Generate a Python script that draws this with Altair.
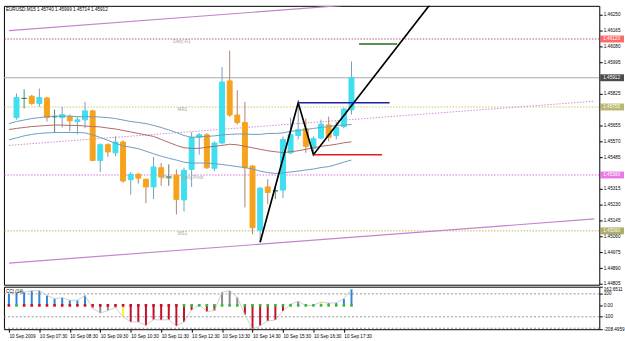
import altair as alt
import pandas as pd

# ---------------- data (EURUSD M15, 10 Sep 2009, bars 06:45 ... 17:45) ----------------
bar_idx = list(range(45))
opens = [1.45698, 1.45801, 1.45813, 1.45774, 1.45803, 1.45703, 1.45698, 1.45703, 1.45677, 1.45686,
         1.45734, 1.45468, 1.45553, 1.45509, 1.45567, 1.45365, 1.45394, 1.45367, 1.45326, 1.45429,
         1.45379, 1.45390, 1.45256, 1.45420, 1.45592, 1.45606, 1.45426, 1.45562, 1.45895, 1.45712,
         1.45672, 1.45438, 1.45093, 1.45326, 1.45305, 1.45309, 1.45509, 1.45602, 1.45638, 1.45532,
         1.45588, 1.45659, 1.45602, 1.45650, 1.45740]
highs = [1.45827, 1.45850, 1.45819, 1.45854, 1.45810, 1.45741, 1.45756, 1.45714, 1.45703, 1.45783,
         1.45741, 1.45560, 1.45560, 1.45597, 1.45576, 1.45406, 1.45401, 1.45370, 1.45487, 1.45455,
         1.45447, 1.45420, 1.45429, 1.45620, 1.45615, 1.45615, 1.45571, 1.45969, 1.46058, 1.45845,
         1.45783, 1.45443, 1.45326, 1.45367, 1.45332, 1.45597, 1.45698, 1.45778, 1.45693, 1.45597,
         1.45687, 1.45703, 1.45677, 1.45751, 1.45999]
lows = [1.45687, 1.45747, 1.45767, 1.45756, 1.45677, 1.45618, 1.45645, 1.45624, 1.45608, 1.45641,
        1.45464, 1.45406, 1.45487, 1.45491, 1.45348, 1.45284, 1.45344, 1.45238, 1.45261, 1.45332,
        1.45332, 1.45178, 1.45194, 1.45326, 1.45500, 1.45422, 1.45411, 1.45555, 1.45703, 1.45661,
        1.45216, 1.45072, 1.45029, 1.45234, 1.45261, 1.45266, 1.45502, 1.45581, 1.45509, 1.45499,
        1.45581, 1.45571, 1.45581, 1.45640, 1.45714]
closes = [1.45806, 1.45801, 1.45774, 1.45806, 1.45698, 1.45703, 1.45714, 1.45681, 1.45686, 1.45734,
          1.45468, 1.45553, 1.45514, 1.45567, 1.45358, 1.45394, 1.45373, 1.45326, 1.45433, 1.45379,
          1.45379, 1.45259, 1.45415, 1.45592, 1.45606, 1.45429, 1.45562, 1.45889, 1.45712, 1.45672,
          1.45429, 1.45107, 1.45319, 1.45296, 1.45305, 1.45580, 1.45606, 1.45633, 1.45544, 1.45585,
          1.45663, 1.45592, 1.45645, 1.45744, 1.45912]

band_idx = list(range(-1, 45))
band_upper = [1.45666, 1.45677, 1.45685, 1.45693, 1.45698, 1.45703, 1.45706, 1.45706, 1.45706, 1.45703,
              1.45703, 1.45703, 1.45701, 1.45698, 1.45693, 1.45685, 1.45677, 1.45672, 1.45666, 1.45656,
              1.45645, 1.45632, 1.45618, 1.45602, 1.45592, 1.45595, 1.45597, 1.45600, 1.45605, 1.45608,
              1.45610, 1.45610, 1.45608, 1.45608, 1.45613, 1.45613, 1.45616, 1.45624, 1.45629, 1.45634,
              1.45640, 1.45645, 1.45650, 1.45656, 1.45658, 1.45661]
band_mid = [1.45634, 1.45640, 1.45645, 1.45650, 1.45653, 1.45656, 1.45658, 1.45658, 1.45656, 1.45656,
            1.45653, 1.45650, 1.45648, 1.45642, 1.45637, 1.45629, 1.45621, 1.45613, 1.45605, 1.45597,
            1.45581, 1.45565, 1.45549, 1.45536, 1.45533, 1.45533, 1.45539, 1.45544, 1.45549, 1.45555,
            1.45552, 1.45544, 1.45536, 1.45528, 1.45520, 1.45515, 1.45510, 1.45515, 1.45520, 1.45528,
            1.45536, 1.45544, 1.45549, 1.45555, 1.45563, 1.45568]
band_lower = [1.45579, 1.45589, 1.45600, 1.45608, 1.45613, 1.45616, 1.45618, 1.45618, 1.45618, 1.45618,
              1.45616, 1.45605, 1.45592, 1.45576, 1.45560, 1.45547, 1.45539, 1.45531, 1.45518, 1.45504,
              1.45491, 1.45480, 1.45470, 1.45459, 1.45454, 1.45454, 1.45454, 1.45451, 1.45446, 1.45441,
              1.45435, 1.45430, 1.45422, 1.45411, 1.45403, 1.45398, 1.45401, 1.45406, 1.45411, 1.45417,
              1.45422, 1.45430, 1.45435, 1.45446, 1.45459, 1.45470]

# trend channel (bar index, price)
channel_idx = [-1, 75.9]
channel_upper = [1.46165, 1.46402]
channel_mid = [1.45549, 1.45786]
channel_lower = [1.44917, 1.45154]

# zigzag A-B-C and projection
zz_idx = [32, 37, 39, 57.5]
zz_price = [1.45029, 1.45778, 1.45499, 1.46473]

# horizontal segments
seg_start = [37, 39, 45]
seg_end = [49, 48, 50]
seg_price = [1.45778, 1.45499, 1.46093]
seg_color = ["#1e1ea6", "#e01c1c", "#1f6e1f"]

# full-width levels
level_names = ["Daily R1", "MR1", "Pivot", "MS1"]
level_prices = [1.46120, 1.45755, 1.45390, 1.45090]
level_colors = ["#a8587c", "#c8c66a", "#d66ee0", "#b8b65c"]
bid_price = 1.45912

label_text = ["Daily R1", "MR1", "Pivot", "Daily Pivot", "MS1"]
label_idx = [21.7, 21.8, 19.8, 23.1, 21.8]
label_price = [1.46120, 1.45755, 1.45390, 1.45390, 1.45090]

tag_prices = [1.46120, 1.45912, 1.45755, 1.45390, 1.45090]
tag_text = ["1.46120", "1.45912", "1.45755", "1.45390", "1.45090"]
tag_bg = ["#ff2a2a", "#000000", "#9c9a32", "#e040e0", "#8c8a2a"]

# visible price-scale labels (those hidden under the price tags are left out)
price_ticks = [1.46250, 1.46165, 1.46080, 1.45995, 1.45825, 1.45655, 1.45570,
               1.45485, 1.45315, 1.45230, 1.45145, 1.45060, 1.44975, 1.44890, 1.44805]

time_ticks = [-1, 3, 7, 11, 15, 19, 23, 27, 31, 35, 39, 43]
time_labels = ["10 Sep 2009", "10 Sep 07:30", "10 Sep 08:30", "10 Sep 09:30", "10 Sep 10:30",
               "10 Sep 11:30", "10 Sep 12:30", "10 Sep 13:30", "10 Sep 14:30", "10 Sep 15:30",
               "10 Sep 16:30", "10 Sep 17:30"]

cci_idx = list(range(-1, 45))
cci_values = [100, 110, 115, 128, 128, 86, 58, 67, 44, 44, 86, -25, -67, -45, -20, -100,
              -145, -145, -175, -125, -128, -125, -180, -145, -40, 8, -55, -45, 115, 128, 70,
              -80, -208.5, -178, -136, -128, -50, 10, 35, -3, 2, 28, 20, 22, 58, 140]
cci_state = list("B" * 11 + "G" * 4 + "Y" + "R" * 9 + "G" + "R" * 2 + "G" * 3 + "R" * 6 + "G" * 4 + "Y" + "B" * 4)
zero_state = list("R" + "G" + "R" * 21 + "G" * 23)
cci_levels = [100, -100, -200]
cci_ticks = [162.6511, 100, 0, -100, -208.4959]
cci_tick_labels = ["162.6511", "100", "0.00", "-100", "-208.4959"]

title_text = "EURUSD,M15  1.45740 1.45999 1.45714 1.45912"

# ---------------- styling helpers ----------------
FONT = "Liberation Sans"
FS = 4.7
W, H_MAIN, H_CCI = 602, 282, 43

def lookup_expr(vals, labels):
    expr = "''"
    for v, l in reversed(list(zip(vals, labels))):
        expr = f"(abs(datum.value - ({v})) < 0.000001 ? '{l}' : {expr})"
    return expr

x_scale = alt.Scale(domain=[-1, 75.9], nice=False, zero=False)
p_scale = alt.Scale(domain=[1.44801, 1.46298], nice=False, zero=False)
c_scale = alt.Scale(domain=[-208.4959, 162.6511], nice=False, zero=False)

price_axis = alt.Axis(orient="right", values=price_ticks, format=".5f", labelFontSize=FS, labelFont=FONT,
                      labelColor="#000000", tickSize=3, tickColor="#000000", domain=False, grid=False,
                      labelPadding=1, labelOverlap=False, title=None)
cci_axis = alt.Axis(orient="right", values=cci_ticks, labelExpr=lookup_expr(cci_ticks, cci_tick_labels),
                    labelFontSize=FS, labelFont=FONT, labelColor="#000000", tickSize=3, tickColor="#000000",
                    labelBaseline={"condition": {"test": "datum.value > 150", "value": "top"}, "value": "middle"},
                    domain=False, grid=False, labelPadding=1, labelOverlap=False, title=None)
time_axis = alt.Axis(values=time_ticks, labelExpr=lookup_expr(time_ticks, time_labels), labelAlign="left",
                     labelBaseline="top", labelFontSize=FS, labelFont=FONT, labelColor="#000000",
                     labelPadding=1, tickSize=3, tickColor="#000000", domain=False, grid=False,
                     labelOverlap=False, labelFlush=False, labelBound=False, title=None)

def mx(f):
    return alt.X(f, type="quantitative", scale=x_scale, axis=None, title=None)

def my(f):
    return alt.Y(f, type="quantitative", scale=p_scale, axis=price_axis, title=None)

# ---------------- tables ----------------
kind = ["up" if c > o else ("down" if c < o else "doji") for o, c in zip(opens, closes)]
body_fill = {"up": "#3ee0f0", "down": "#f7a21b", "doji": "#3a7a6a"}
wick_col = {"up": "#7c9cb8", "down": "#ae8272", "doji": "#4a8a5a"}
candles = pd.DataFrame({"i": bar_idx, "open": opens, "high": highs, "low": lows, "close": closes,
                        "kind": kind})
candles["fill"] = [body_fill[k] for k in kind]
candles["wick"] = [wick_col[k] for k in kind]

bands = pd.concat([
    pd.DataFrame({"i": band_idx, "v": band_upper, "band": "upper", "col": "#6e9cbf"}),
    pd.DataFrame({"i": band_idx, "v": band_lower, "band": "lower", "col": "#6e9cbf"}),
    pd.DataFrame({"i": band_idx, "v": band_mid, "band": "mid", "col": "#b06868"}),
])
channel_solid = pd.concat([
    pd.DataFrame({"i": channel_idx, "v": channel_upper, "line": "upper"}),
    pd.DataFrame({"i": channel_idx, "v": channel_lower, "line": "lower"}),
])
channel_dot = pd.DataFrame({"i": channel_idx, "v": channel_mid})
zz = pd.DataFrame({"i": zz_idx, "v": zz_price, "order": list(range(len(zz_idx)))})
segs = pd.DataFrame({"s": seg_start, "e": seg_end, "v": seg_price, "col": seg_color})
levels = pd.DataFrame({"name": level_names, "v": level_prices, "col": level_colors})
labels = pd.DataFrame({"t": label_text, "i": label_idx, "v": label_price})
tags = pd.DataFrame({"t": tag_text, "v": tag_prices, "bg": tag_bg})

bar_colors = {"B": "#2f86d6", "G": "#8c8c8c", "Y": "#f2f23a", "R": "#c0102c"}
sq_colors = {"R": "#d0102a", "G": "#3cb83c"}
cci = pd.DataFrame({"i": cci_idx, "c": cci_values, "zero": 0,
                    "bcol": [bar_colors[s] for s in cci_state],
                    "scol": [sq_colors[s] for s in zero_state]})
cci_lv = pd.DataFrame({"v": cci_levels})

# ---------------- main panel ----------------
lv_rules = alt.Chart(levels).mark_rule(strokeDash=[1.5, 1.5], strokeWidth=1, clip=True).encode(
    y=my("v"), color=alt.Color("col:N", scale=None))
bid_rule = alt.Chart(pd.DataFrame({"v": [bid_price]})).mark_rule(color="#a8a8a8", strokeWidth=1, clip=True).encode(
    y=my("v"))
ch_solid = alt.Chart(channel_solid).mark_line(color="#c484cc", strokeWidth=1.2, clip=True).encode(
    x=mx("i"), y=my("v"), detail="line:N")
ch_dot = alt.Chart(channel_dot).mark_line(color="#d08ed0", strokeWidth=1, strokeDash=[1.5, 1.5], clip=True).encode(
    x=mx("i"), y=my("v"))
band_lines = alt.Chart(bands).mark_line(strokeWidth=1, clip=True).encode(
    x=mx("i"), y=my("v"), detail="band:N", color=alt.Color("col:N", scale=None))
wicks = alt.Chart(candles).mark_rule(strokeWidth=1, clip=True).encode(
    x=mx("i"), y=my("low"), y2="high", color=alt.Color("wick:N", scale=None))
bodies = alt.Chart(candles).mark_bar(size=5, strokeWidth=1, clip=True).encode(
    x=mx("i"), y=my("open"), y2="close", color=alt.Color("fill:N", scale=None),
    stroke=alt.Stroke("fill:N", scale=None))
zigzag = alt.Chart(zz).mark_line(color="#000000", strokeWidth=1.7, clip=True).encode(
    x=mx("i"), y=my("v"), order="order:Q")
seg_rules = alt.Chart(segs).mark_rule(strokeWidth=1.6, clip=True).encode(
    x=mx("s"), x2="e", y=my("v"), color=alt.Color("col:N", scale=None))
lv_text = alt.Chart(labels).mark_text(fontSize=FS, font=FONT, color="#a8a8a8", dy=3, baseline="middle").encode(
    x=mx("i"), y=my("v"), text="t:N")
title = alt.Chart(pd.DataFrame({"t": [title_text]})).mark_text(
    align="left", baseline="middle", fontSize=FS, font=FONT, color="#000000").encode(
    x=alt.value(2), y=alt.value(4), text="t:N")
tag_box = alt.Chart(tags).mark_tick(orient="horizontal", thickness=7, size=24).encode(
    x=alt.value(615), y=my("v"), color=alt.Color("bg:N", scale=None))
tag_txt = alt.Chart(tags).mark_text(align="left", baseline="middle", fontSize=FS, font=FONT,
                                    color="#ffffff").encode(x=alt.value(606), y=my("v"), text="t:N")

main = alt.layer(lv_rules, bid_rule, ch_solid, ch_dot, wicks, bodies, band_lines, zigzag, seg_rules,
                 lv_text, title, tag_box, tag_txt).properties(width=W, height=H_MAIN)

# ---------------- CCI panel ----------------
def cx(f):
    return alt.X(f, type="quantitative", scale=x_scale, axis=time_axis, title=None)

def cy(f):
    return alt.Y(f, type="quantitative", scale=c_scale, axis=cci_axis, title=None)

c_levels = alt.Chart(cci_lv).mark_rule(color="#7a7a7a", strokeWidth=0.8, strokeDash=[2, 2], clip=True).encode(
    y=cy("v"))
c_bars = alt.Chart(cci).mark_bar(size=2, clip=True).encode(
    x=cx("i"), y=cy("c"), y2="zero", color=alt.Color("bcol:N", scale=None))
c_line = alt.Chart(cci).mark_line(color="#c4c4c4", strokeWidth=0.8, clip=True).encode(
    x=cx("i"), y=cy("c"))
c_sq = alt.Chart(cci).mark_square(size=7, opacity=1, clip=True).encode(
    x=cx("i"), y=cy("zero"), color=alt.Color("scol:N", scale=None))
c_title = alt.Chart(pd.DataFrame({"t": ["CCI (14)"]})).mark_text(
    align="left", baseline="middle", fontSize=FS, font=FONT, color="#000000").encode(
    x=alt.value(2), y=alt.value(5), text="t:N")

cci_panel = alt.layer(c_levels, c_bars, c_line, c_sq, c_title).properties(width=W, height=H_CCI)

chart = alt.vconcat(main, cci_panel, spacing=2, bounds="flush").properties(
    padding={"left": 3, "top": 3, "right": 0, "bottom": 0}, background="#ffffff"
).configure_view(stroke="#000000", strokeWidth=1)

chart.save("out.html", embed_options={"renderer": "svg", "actions": False})
